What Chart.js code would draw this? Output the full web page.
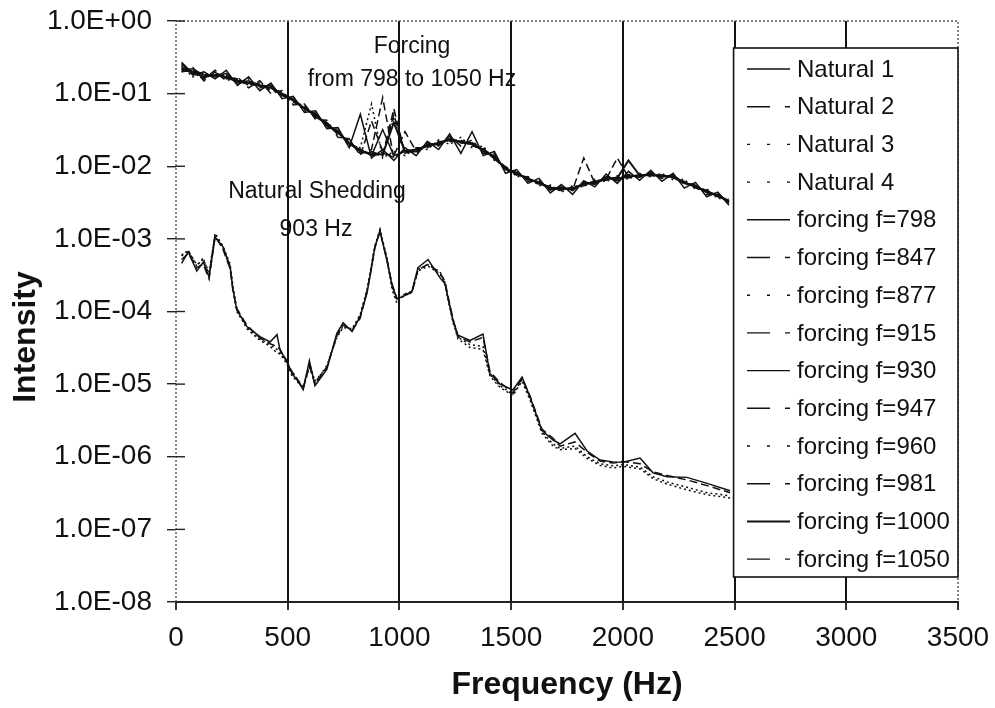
<!DOCTYPE html>
<html>
<head>
<meta charset="utf-8">
<script src="https://cdn.jsdelivr.net/npm/chart.js@4.4.1/dist/chart.umd.min.js"></script>
<style>
  html, body { margin: 0; padding: 0; background: #fff; }
  #wrap { width: 995px; height: 708px; }
</style>
</head>
<body>
<div id="wrap"><canvas id="spectrumChart" width="995" height="708"></canvas></div>
<script>
// Shedding spectra: natural shedding (lower group) vs. forced runs (upper group).
// Values; y is intensity on a log axis.

const xTickValues = [0, 500, 1000, 1500, 2000, 2500, 3000, 3500];
const yTickValues = [1e0, 1e-1, 1e-2, 1e-3, 1e-4, 1e-5, 1e-6, 1e-7, 1e-8];

// --- natural runs (lower cluster) ---
const naturalFreqHz = [
  25, 55, 93, 122, 148, 175, 210, 242, 255, 272,
  317, 376, 421, 452, 466, 496, 519, 541, 569, 597,
  622, 675, 720, 748, 788, 824, 855, 868, 890, 913,
  944, 967, 989, 1016, 1056, 1083, 1128, 1182, 1204, 1218,
  1240, 1262, 1316, 1374, 1405, 1450, 1508, 1549, 1585, 1638,
  1688, 1719, 1786, 1840, 1898, 1956, 2001, 2077, 2135, 2198,
  2287, 2377, 2480
];
const natural1 = [
  4.6e-4, 6.6e-4, 3.6e-4, 4.8e-4, 3.0e-4, 1.05e-3, 7.8e-4, 4.2e-4, 2.0e-4, 1.05e-4,
  6.2e-5, 4.5e-5, 3.8e-5, 4.8e-5, 2.9e-5, 2.1e-5, 1.4e-5, 1.15e-5, 8.4e-6, 2.1e-5,
  9.5e-6, 1.6e-5, 5.0e-5, 7.0e-5, 5.3e-5, 8.5e-5, 1.8e-4, 3.0e-4, 7.7e-4, 1.3e-3,
  5.0e-4, 2.3e-4, 1.5e-4, 1.6e-4, 1.9e-4, 4.0e-4, 5.2e-4, 2.9e-4, 2.4e-4, 1.5e-4,
  7.6e-5, 4.7e-5, 4.0e-5, 4.9e-5, 1.4e-5, 1.0e-5, 8.3e-6, 1.25e-5, 6.6e-6, 2.3e-6,
  1.7e-6, 1.5e-6, 2.1e-6, 1.2e-6, 9.0e-7, 8.5e-7, 8.4e-7, 9.6e-7, 6.0e-7, 5.3e-7,
  5.2e-7, 4.3e-7, 3.4e-7
];
const natural2 = [
  5.2e-4, 6.3e-4, 4.0e-4, 4.5e-4, 2.8e-4, 1.1e-3, 7.2e-4, 3.9e-4, 1.9e-4, 1.1e-4,
  6.5e-5, 4.3e-5, 3.6e-5, 3.3e-5, 3.0e-5, 2.0e-5, 1.5e-5, 1.2e-5, 8.6e-6, 1.8e-5,
  1.0e-5, 1.7e-5, 4.7e-5, 6.5e-5, 5.5e-5, 8.0e-5, 1.9e-4, 3.1e-4, 7.5e-4, 1.25e-3,
  5.2e-4, 2.4e-4, 1.5e-4, 1.7e-4, 1.8e-4, 3.7e-4, 4.5e-4, 3.4e-4, 2.6e-4, 1.6e-4,
  7.8e-5, 4.5e-5, 3.8e-5, 4.4e-5, 1.5e-5, 1.05e-5, 7.6e-6, 1.2e-5, 6.8e-6, 2.4e-6,
  1.8e-6, 1.4e-6, 1.6e-6, 1.15e-6, 8.7e-7, 8.2e-7, 8.6e-7, 8.0e-7, 6.2e-7, 5.5e-7,
  4.8e-7, 4.0e-7, 3.2e-7
];
const natural3 = [
  5.8e-4, 7.0e-4, 4.2e-4, 5.5e-4, 3.2e-4, 1.2e-3, 8.0e-4, 4.5e-4, 2.2e-4, 1.1e-4,
  5.8e-5, 4.0e-5, 3.3e-5, 2.7e-5, 2.6e-5, 1.9e-5, 1.3e-5, 1.1e-5, 8.8e-6, 1.7e-5,
  1.05e-5, 1.8e-5, 4.4e-5, 6.0e-5, 5.8e-5, 9.0e-5, 2.0e-4, 3.3e-4, 8.0e-4, 1.35e-3,
  5.5e-4, 2.0e-4, 1.3e-4, 1.7e-4, 1.9e-4, 3.6e-4, 4.2e-4, 3.3e-4, 2.3e-4, 1.4e-4,
  7.0e-5, 4.2e-5, 3.2e-5, 3.0e-5, 1.3e-5, 9.0e-6, 7.0e-6, 1.1e-5, 6.0e-6, 2.1e-6,
  1.4e-6, 1.25e-6, 1.3e-6, 9.5e-7, 7.6e-7, 7.0e-7, 7.4e-7, 6.8e-7, 5.0e-7, 4.2e-7,
  3.5e-7, 3.0e-7, 2.7e-7
];
const natural4 = [
  6.0e-4, 6.8e-4, 4.4e-4, 5.2e-4, 3.5e-4, 1.15e-3, 7.5e-4, 4.0e-4, 2.1e-4, 1.0e-4,
  6.0e-5, 4.2e-5, 3.5e-5, 3.0e-5, 2.7e-5, 2.0e-5, 1.4e-5, 1.2e-5, 9.0e-6, 1.9e-5,
  1.1e-5, 1.7e-5, 4.6e-5, 6.3e-5, 5.6e-5, 8.8e-5, 1.9e-4, 3.2e-4, 7.8e-4, 1.3e-3,
  5.3e-4, 2.2e-4, 1.4e-4, 1.6e-4, 1.85e-4, 3.8e-4, 4.4e-4, 3.5e-4, 2.5e-4, 1.5e-4,
  7.3e-5, 4.4e-5, 3.5e-5, 3.3e-5, 1.35e-5, 9.5e-6, 7.2e-6, 1.15e-5, 6.3e-6, 2.2e-6,
  1.5e-6, 1.3e-6, 1.4e-6, 1.0e-6, 8.0e-7, 7.5e-7, 7.8e-7, 7.2e-7, 5.3e-7, 4.5e-7,
  3.8e-7, 3.2e-7, 2.9e-7
];

// --- forced runs (upper cluster), 50 Hz bins ---
const forcingFreqHz = [
  25, 75, 125, 175, 225, 275, 325, 375, 425, 475,
  525, 575, 625, 675, 725, 775, 825, 875, 925, 975,
  1025, 1075, 1125, 1175, 1225, 1275, 1325, 1375, 1425, 1475,
  1525, 1575, 1625, 1675, 1725, 1775, 1825, 1875, 1925, 1975,
  2025, 2075, 2125, 2175, 2225, 2275, 2325, 2375, 2425, 2475
];
const forcing798 = [
  0.26, 0.18, 0.20, 0.16, 0.21, 0.13, 0.17, 0.11, 0.14, 0.085,
  0.092, 0.055, 0.058, 0.033, 0.034, 0.018, 0.052, 0.013, 0.017, 0.012,
  0.018, 0.014, 0.022, 0.017, 0.028, 0.015, 0.030, 0.014, 0.016, 0.0080,
  0.0090, 0.0058, 0.0068, 0.0043, 0.0056, 0.0041, 0.0063, 0.0052, 0.0078, 0.0058,
  0.0085, 0.0064, 0.0088, 0.0062, 0.0080, 0.0050, 0.0060, 0.0038, 0.0044, 0.0029
];
const forcing847 = [
  0.20, 0.23, 0.15, 0.20, 0.15, 0.17, 0.12, 0.15, 0.10, 0.11,
  0.070, 0.072, 0.044, 0.043, 0.025, 0.024, 0.014, 0.042, 0.016, 0.013,
  0.017, 0.015, 0.021, 0.019, 0.026, 0.019, 0.023, 0.015, 0.015, 0.0085,
  0.0086, 0.0062, 0.0064, 0.0047, 0.0052, 0.0046, 0.0060, 0.0056, 0.0072, 0.0063,
  0.0077, 0.0070, 0.0083, 0.0068, 0.0078, 0.0056, 0.0057, 0.0041, 0.0043, 0.0031
];
const forcing877 = [
  0.24, 0.17, 0.19, 0.17, 0.18, 0.14, 0.16, 0.12, 0.13, 0.092,
  0.085, 0.058, 0.054, 0.035, 0.031, 0.019, 0.018, 0.072, 0.013, 0.016,
  0.014, 0.018, 0.017, 0.023, 0.020, 0.025, 0.018, 0.019, 0.012, 0.010,
  0.0072, 0.0072, 0.0054, 0.0055, 0.0044, 0.0054, 0.0052, 0.0066, 0.0061, 0.0074,
  0.0066, 0.0080, 0.0071, 0.0080, 0.0065, 0.0066, 0.0048, 0.0049, 0.0036, 0.0036
];
const forcing915 = [
  0.27, 0.19, 0.16, 0.21, 0.16, 0.16, 0.13, 0.14, 0.11, 0.105,
  0.077, 0.068, 0.047, 0.040, 0.027, 0.023, 0.015, 0.017, 0.088, 0.013,
  0.017, 0.016, 0.020, 0.020, 0.025, 0.021, 0.021, 0.016, 0.014, 0.0090,
  0.0082, 0.0064, 0.0061, 0.0048, 0.0051, 0.0047, 0.013, 0.0058, 0.0070, 0.0066,
  0.0075, 0.0072, 0.0080, 0.0070, 0.0074, 0.0057, 0.0056, 0.0042, 0.0041, 0.0031
];
const forcing930 = [
  0.21, 0.22, 0.18, 0.17, 0.19, 0.14, 0.15, 0.125, 0.13, 0.093,
  0.086, 0.061, 0.053, 0.036, 0.031, 0.020, 0.017, 0.014, 0.032, 0.014,
  0.016, 0.016, 0.020, 0.020, 0.024, 0.021, 0.021, 0.016, 0.014, 0.0090,
  0.0082, 0.0065, 0.0061, 0.0049, 0.0050, 0.0048, 0.0059, 0.0058, 0.0069, 0.0066,
  0.0074, 0.0072, 0.0080, 0.0071, 0.0075, 0.0058, 0.0055, 0.0043, 0.0041, 0.0032
];
const forcing947 = [
  0.22, 0.19, 0.185, 0.17, 0.18, 0.15, 0.145, 0.135, 0.115, 0.105,
  0.076, 0.067, 0.048, 0.040, 0.028, 0.022, 0.015, 0.016, 0.014, 0.052,
  0.015, 0.018, 0.018, 0.022, 0.022, 0.023, 0.019, 0.018, 0.0125, 0.0099,
  0.0075, 0.0071, 0.0056, 0.0053, 0.0046, 0.0052, 0.0054, 0.0063, 0.0064, 0.0071,
  0.0069, 0.0077, 0.0074, 0.0076, 0.0069, 0.0062, 0.0050, 0.0047, 0.0038, 0.0034
];
const forcing960 = [
  0.25, 0.20, 0.165, 0.19, 0.16, 0.155, 0.135, 0.13, 0.125, 0.097,
  0.083, 0.062, 0.051, 0.037, 0.029, 0.021, 0.017, 0.014, 0.015, 0.045,
  0.016, 0.016, 0.019, 0.021, 0.023, 0.022, 0.020, 0.017, 0.0135, 0.0092,
  0.0080, 0.0066, 0.0060, 0.0050, 0.0049, 0.0049, 0.0057, 0.0060, 0.0067, 0.0068,
  0.0072, 0.0074, 0.0077, 0.0073, 0.0072, 0.0059, 0.0053, 0.0044, 0.0040, 0.0032
];
const forcing981 = [
  0.23, 0.21, 0.17, 0.195, 0.165, 0.15, 0.14, 0.125, 0.12, 0.098,
  0.081, 0.063, 0.049, 0.038, 0.029, 0.021, 0.016, 0.015, 0.014, 0.062,
  0.015, 0.017, 0.019, 0.021, 0.023, 0.022, 0.020, 0.017, 0.013, 0.0095,
  0.0078, 0.0068, 0.0058, 0.0051, 0.0048, 0.0050, 0.0056, 0.0061, 0.0066, 0.013,
  0.0071, 0.0075, 0.0076, 0.0074, 0.0071, 0.0060, 0.0052, 0.0045, 0.0039, 0.0033
];
const forcing1000 = [
  0.22, 0.20, 0.17, 0.18, 0.17, 0.15, 0.14, 0.13, 0.12, 0.10,
  0.080, 0.063, 0.050, 0.038, 0.029, 0.021, 0.016, 0.015, 0.0145, 0.040,
  0.016, 0.017, 0.019, 0.021, 0.023, 0.022, 0.020, 0.017, 0.013, 0.0094,
  0.0078, 0.0068, 0.0058, 0.0051, 0.0048, 0.0050, 0.0056, 0.0061, 0.0066, 0.0069,
  0.012, 0.0075, 0.0076, 0.0074, 0.0071, 0.0060, 0.0052, 0.0045, 0.0039, 0.0033
];
const forcing1050 = [
  0.20, 0.21, 0.175, 0.185, 0.175, 0.14, 0.145, 0.125, 0.12, 0.096,
  0.082, 0.062, 0.052, 0.036, 0.030, 0.021, 0.017, 0.014, 0.015, 0.014,
  0.030, 0.016, 0.019, 0.020, 0.024, 0.021, 0.021, 0.016, 0.0135, 0.0092,
  0.0080, 0.0066, 0.0060, 0.0050, 0.0049, 0.0049, 0.0057, 0.0060, 0.0067, 0.0068,
  0.0072, 0.0074, 0.0077, 0.0073, 0.0072, 0.0059, 0.0053, 0.0044, 0.0040, 0.0032
];

// line looks: dash pattern in the plot and in the (longer) legend sample
const lineStyles = {
  solid: { plot: [], legend: [] },
  dash: { plot: [8, 4], legend: [23, 15] },
  dot: { plot: [2, 3], legend: [3, 17] },
};

const seriesList = [
  { label: 'Natural 1', freq: naturalFreqHz, values: natural1, style: 'solid' },
  { label: 'Natural 2', freq: naturalFreqHz, values: natural2, style: 'dash' },
  { label: 'Natural 3', freq: naturalFreqHz, values: natural3, style: 'dot' },
  { label: 'Natural 4', freq: naturalFreqHz, values: natural4, style: 'dot' },
  { label: 'forcing f=798', freq: forcingFreqHz, values: forcing798, style: 'solid' },
  { label: 'forcing f=847', freq: forcingFreqHz, values: forcing847, style: 'dash' },
  { label: 'forcing f=877', freq: forcingFreqHz, values: forcing877, style: 'dot' },
  { label: 'forcing f=915', freq: forcingFreqHz, values: forcing915, style: 'dash' },
  { label: 'forcing f=930', freq: forcingFreqHz, values: forcing930, style: 'solid' },
  { label: 'forcing f=947', freq: forcingFreqHz, values: forcing947, style: 'dash' },
  { label: 'forcing f=960', freq: forcingFreqHz, values: forcing960, style: 'dot' },
  { label: 'forcing f=981', freq: forcingFreqHz, values: forcing981, style: 'dash' },
  { label: 'forcing f=1000', freq: forcingFreqHz, values: forcing1000, style: 'solid', width: 2 },
  { label: 'forcing f=1050', freq: forcingFreqHz, values: forcing1050, style: 'dash' },
];

const FONT = '"Liberation Sans", Arial, Helvetica, sans-serif';

function sciLabel(v) {
  const e = Math.round(Math.log10(v));
  return '1.0E' + (e < 0 ? '-' : '+') + String(Math.abs(e)).padStart(2, '0');
}

// frame, legend box, notes and axis titles are drawn by hand on top of the lines
const overlayPlugin = {
  id: 'overlay',
  afterDatasetsDraw(chart) {
    const { ctx, chartArea: a, scales } = chart;
    const x = scales.x;
    const y = scales.y;
    ctx.save();

    // dotted frame on left, top, right
    ctx.strokeStyle = '#555';
    ctx.lineWidth = 1.4;
    ctx.setLineDash([2, 2]);
    ctx.beginPath();
    ctx.moveTo(a.left, a.bottom);
    ctx.lineTo(a.left, a.top);
    ctx.lineTo(a.right, a.top);
    ctx.lineTo(a.right, a.bottom);
    ctx.stroke();
    ctx.setLineDash([]);

    // y ticks cross the axis
    ctx.strokeStyle = '#222';
    ctx.lineWidth = 1.4;
    yTickValues.forEach((v) => {
      const py = y.getPixelForValue(v);
      ctx.beginPath();
      ctx.moveTo(a.left, py);
      ctx.lineTo(a.left + 9, py);
      ctx.stroke();
    });

    // legend box
    const boxLeft = x.getPixelForValue(2500) - 1;
    const boxTop = a.top + 27;
    const boxBottom = 577;
    ctx.fillStyle = '#fff';
    ctx.fillRect(boxLeft, boxTop, a.right - boxLeft, boxBottom - boxTop);
    ctx.strokeStyle = '#111';
    ctx.lineWidth = 1.6;
    ctx.strokeRect(boxLeft, boxTop, a.right - boxLeft, boxBottom - boxTop);

    ctx.font = '24px ' + FONT;
    ctx.textAlign = 'left';
    ctx.textBaseline = 'middle';
    ctx.fillStyle = '#111';
    seriesList.forEach((s, i) => {
      const ly = 69 + i * 37.7;
      ctx.save();
      ctx.beginPath();
      ctx.rect(747, ly - 4, 43, 8);
      ctx.clip();
      ctx.strokeStyle = '#111';
      ctx.lineWidth = s.width || 1.4;
      ctx.setLineDash(lineStyles[s.style].legend);
      ctx.beginPath();
      ctx.moveTo(747, ly);
      ctx.lineTo(790, ly);
      ctx.stroke();
      ctx.restore();
      ctx.fillText(s.label, 797, ly + 1);
    });

    // notes
    ctx.font = '23px ' + FONT;
    ctx.textAlign = 'center';
    ctx.fillText('Forcing', 412, 47);
    ctx.fillText('from 798 to 1050 Hz', 412, 80);
    ctx.fillText('Natural Shedding', 317, 192);
    ctx.fillText('903 Hz', 316, 230);

    // axis titles
    ctx.font = 'bold 32px ' + FONT;
    ctx.fillText('Frequency (Hz)', (a.left + a.right) / 2, 685);
    ctx.save();
    ctx.translate(26, 337);
    ctx.rotate(-Math.PI / 2);
    ctx.fillText('Intensity', 0, 0);
    ctx.restore();

    ctx.restore();
  },
};

const datasets = seriesList.map((s) => ({
  label: s.label,
  data: s.freq.map((f, i) => ({ x: f, y: s.values[i] })),
  borderColor: '#111',
  borderWidth: s.width || 1.5,
  borderDash: lineStyles[s.style].plot,
  pointRadius: 0,
  tension: 0,
  fill: false,
}));

new Chart(document.getElementById('spectrumChart'), {
  type: 'line',
  data: { datasets: datasets },
  plugins: [overlayPlugin],
  options: {
    responsive: false,
    animation: false,
    layout: { padding: { left: 0, right: 37, top: 21, bottom: 0 } },
    plugins: { legend: { display: false }, tooltip: { enabled: false } },
    scales: {
      x: {
        type: 'linear',
        min: 0,
        max: 3500,
        afterBuildTicks: (scale) => { scale.ticks = xTickValues.map((v) => ({ value: v })); },
        afterFit: (scale) => {
          scale.height = 106;
          scale.paddingLeft = 0;
          scale.paddingRight = 0;
        },
        ticks: {
          color: '#111',
          font: { family: FONT, size: 28 },
          padding: 11,
          maxRotation: 0,
          callback: (v) => String(v),
        },
        grid: {
          color: (c) => (c.tick && (c.tick.value === 0 || c.tick.value === 3500) ? 'rgba(0,0,0,0)' : '#111'),
          lineWidth: 2,
          tickColor: '#333',
          tickLength: 8,
        },
        border: { display: true, color: '#222', width: 2 },
      },
      y: {
        type: 'logarithmic',
        min: 1e-8,
        max: 1,
        afterBuildTicks: (scale) => { scale.ticks = yTickValues.map((v) => ({ value: v })); },
        afterFit: (scale) => {
          scale.width = 176;
          scale.paddingTop = 0;
          scale.paddingBottom = 0;
        },
        ticks: {
          color: '#111',
          font: { family: FONT, size: 28 },
          padding: 15,
          callback: (v) => sciLabel(v),
        },
        grid: {
          drawOnChartArea: false,
          tickColor: '#222',
          tickLength: 9,
          lineWidth: 1.4,
        },
        border: { display: false },
      },
    },
  },
});
</script>
</body>
</html>
